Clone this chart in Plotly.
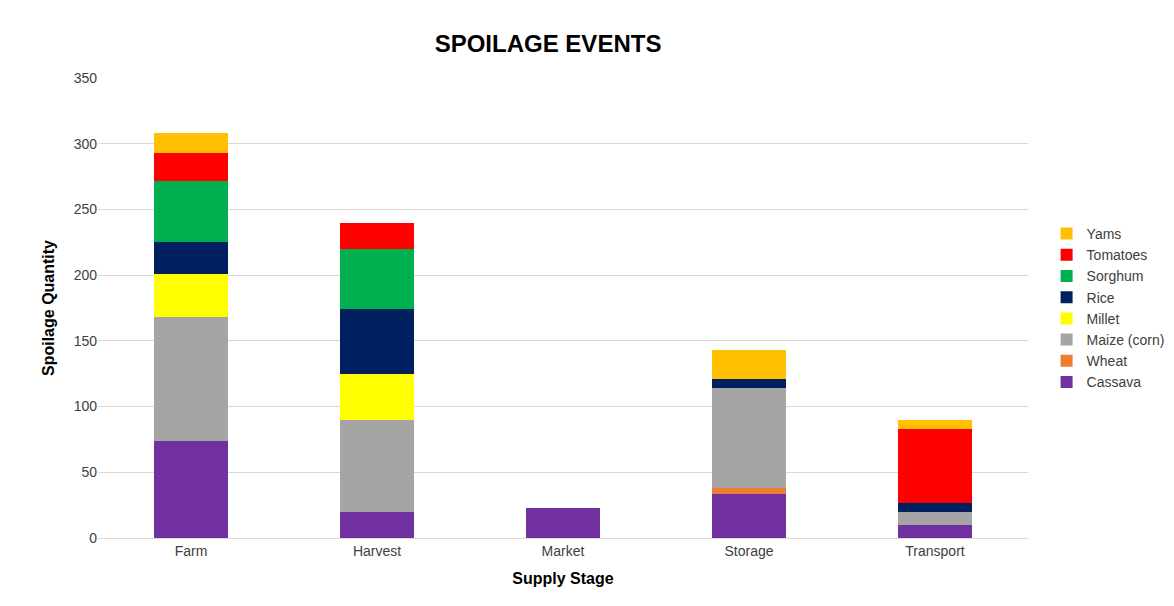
import plotly.graph_objects as go

stages = ["Farm", "Harvest", "Market", "Storage", "Transport"]

cassava = [74, 20, 23, 33.5, 10]
wheat = [0, 0, 0, 4.5, 0]
maize = [94, 70, 0, 76, 10]
millet = [33, 35, 0, 0, 0]
rice = [24, 49, 0, 7, 7]
sorghum = [47, 46, 0, 0, 0]
tomatoes = [21, 20, 0, 0, 56]
yams = [15, 0, 0, 22, 7]

series = [
    ("Cassava", cassava, "#7030A0"),
    ("Wheat", wheat, "#ED7D31"),
    ("Maize (corn)", maize, "#A5A5A5"),
    ("Millet", millet, "#FFFF00"),
    ("Rice", rice, "#002060"),
    ("Sorghum", sorghum, "#00B050"),
    ("Tomatoes", tomatoes, "#FF0000"),
    ("Yams", yams, "#FFC000"),
]

fig = go.Figure()
for name, vals, color in series:
    fig.add_trace(go.Bar(x=stages, y=vals, name=name, marker_color=color,
                         marker_line_width=0, width=0.4))

fig.update_layout(
    barmode="stack",
    width=1174, height=606,
    paper_bgcolor="white", plot_bgcolor="white",
    font=dict(family="Liberation Sans, Arial", size=14, color="#404040"),
    title=dict(text="<b>SPOILAGE EVENTS</b>", x=0.46, y=0.955, xanchor="center",
               font=dict(size=24, color="black")),
    margin=dict(l=90, r=147, t=70, b=76),
    legend=dict(traceorder="reversed", x=1.02, y=0.5, yanchor="middle",
                font=dict(size=14, color="#404040"), itemwidth=30, tracegroupgap=0),
    bargap=0.6,
)
fig.update_yaxes(range=[0, 350], dtick=50, showgrid=True, gridcolor="#D9D9D9",
                 zeroline=False, ticks="", title=dict(text="<b>Spoilage Quantity</b>",
                 font=dict(size=16, color="black")))
fig.update_xaxes(showline=True, linecolor="#D9D9D9", ticks="",
                 title=dict(text="<b>Supply Stage</b>", font=dict(size=16, color="black")))

fig.write_html("out.html")
